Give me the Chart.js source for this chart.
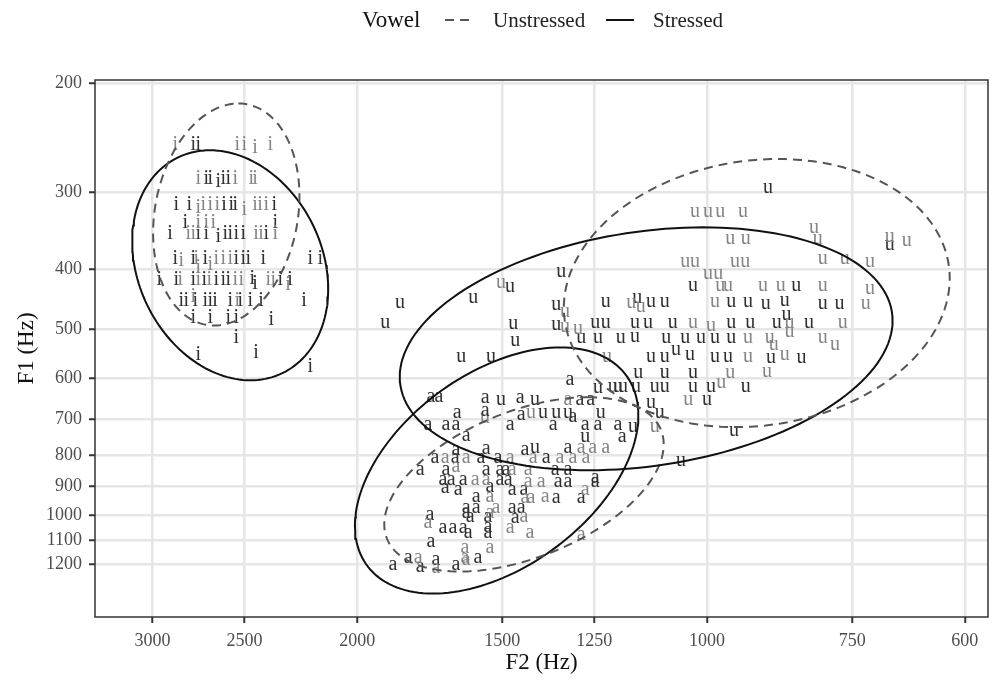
<!DOCTYPE html>
<html>
<head>
<meta charset="utf-8">
<script src="https://cdn.jsdelivr.net/npm/chart.js@4.4.1/dist/chart.umd.min.js"></script>
<style>
  html, body { margin: 0; padding: 0; background: #fff; }
  #wrap { width: 992px; height: 680px; }
</style>
</head>
<body>
<div id="wrap"><canvas id="vowelChart" width="992" height="680"></canvas></div>
<script>
// formant measurements, [F2, F1] in Hz
const iStressed = [
  [2767,252],[2740,252],
  [2697,286],[2676,286],[2634,289],[2608,286],[2582,286],
  [2862,315],[2789,315],[2603,315],[2567,315],[2546,315],[2357,315],
  [2812,337],[2352,337],
  [2897,351],[2740,351],[2697,351],[2634,355],[2597,351],[2572,351],[2541,351],[2506,351],[2395,351],
  [2868,386],[2767,386],[2702,386],[2541,386],[2506,386],[2482,386],[2409,386],[2195,386],[2152,386],
  [2960,417],[2862,417],[2767,417],[2708,417],[2644,417],[2608,417],[2582,417],[2462,415],[2448,423],[2329,417],[2284,417],
  [2834,451],[2806,451],[2756,451],[2702,451],[2676,451],[2650,451],[2572,451],[2521,451],[2472,451],[2419,451],[2222,451],
  [2767,480],[2676,480],[2582,480],[2541,480],[2371,484],
  [2541,518],[2740,551],[2443,547],[2195,576]
];
const iUnstressed = [
  [2868,252],[2536,252],[2501,252],[2448,255],[2376,252],
  [2740,286],[2546,286],[2467,286],[2448,286],
  [2740,319],[2713,315],[2676,315],[2639,315],[2501,321],[2448,315],[2424,315],[2395,315],
  [2740,337],[2697,337],[2660,337],
  [2795,351],[2767,351],[2443,351],[2419,351],[2352,351],
  [2834,389],[2751,386],[2676,394],[2644,386],[2608,386],[2572,386],
  [2840,417],[2740,399],[2740,417],[2681,417],[2546,417],[2516,417],[2385,417],[2361,417],[2293,425],
  [2767,444],[2536,451]
];
const uStressed = [
  [1837,454],[1892,489],[1589,446],[1477,428],[1335,405],[1468,491],[1462,523],[1627,555],[1534,555],[1348,458],[1348,493],
  [1028,427],[1222,453],[1148,446],[1117,453],[1087,453],[953,453],[922,453],
  [1248,489],[1222,489],[1153,489],[1124,489],[1070,489],[953,489],[918,489],
  [1283,517],[1241,517],[1186,517],[1153,515],[1084,517],[1044,517],[1012,517],[984,517],[953,517],
  [1117,555],[1087,555],[1063,541],[1034,551],[984,555],[959,555],
  [1146,590],[1087,590],[1028,590],
  [1241,624],[1205,621],[1193,621],[1181,621],[1151,621],[1109,621],[1087,621],[1028,621],[992,621],[926,621],
  [886,296],[696,366],[838,427],[890,456],[857,451],[795,456],[769,456],[871,489],[854,475],[817,489],[881,558],[829,558],
  [1504,652],[1406,652],[1384,685],[1348,685],[1317,685],[1234,685],[1158,721],[1273,749],[1406,780],
  [1117,659],[1098,685],[1000,652],[948,732],[1053,819]
];
const uUnstressed = [
  [1504,422],[1325,470],[1325,497],
  [1044,390],[1024,390],[946,390],[927,390],[998,408],[978,408],[974,427],[959,427],
  [1162,454],[1140,461],[984,453],[1028,489],[992,495],[922,517],[1219,555],[922,555],[955,590],[972,612],[1291,500],
  [1024,323],[998,323],[974,323],[931,323],[955,358],[926,358],
  [809,344],[803,358],[696,355],[673,361],[795,385],[761,385],[724,390],
  [895,427],[864,427],[795,427],[724,432],[730,456],[849,489],[764,489],[883,517],[876,531],[849,506],[795,517],[776,531],[857,551],[888,587],
  [1552,697],[1417,685],[1109,721],[1038,652]
];
const aStressed = [
  [1728,645],[1701,645],[1552,647],[1448,647],[1640,685],[1552,680],[1738,716],[1677,716],[1644,716],[1477,716],[1445,690],
  [1611,746],[1644,786],[1549,783],[1434,786],[1714,810],[1647,810],[1565,810],[1513,810],
  [1765,847],[1677,847],[1549,847],[1507,847],[1489,847],[1687,879],[1660,879],[1621,879],[1507,879],[1483,879],
  [1312,605],[1286,652],[1259,652],[1304,695],[1356,716],[1273,716],[1241,716],[1193,716],[1183,749],
  [1317,780],[1375,810],[1351,847],[1317,847],[1248,873],[1343,886],[1317,886],[1248,886],
  [1680,905],[1637,912],[1580,936],[1537,902],[1471,912],[1437,912],[1348,940],[1283,940],
  [1611,976],[1580,976],[1611,994],[1471,976],[1445,976],[1462,1013],[1731,1001],[1599,1009],[1543,1009],
  [1687,1051],[1654,1051],[1621,1051],[1605,1071],[1543,1047],[1543,1071],[1728,1107],
  [1574,1176],[1863,1207],[1808,1176],[1765,1216],[1711,1185],[1644,1207]
];
const aUnstressed = [
  [1680,810],[1611,810],[1477,810],[1644,837],[1471,847],[1425,847],[1317,652],
  [1283,780],[1254,780],[1222,780],[1411,810],[1338,810],[1304,810],[1271,810],
  [1583,879],[1549,879],[1425,886],[1389,886],[1537,936],[1434,940],[1417,940],[1378,936],[1273,912],
  [1537,994],[1519,976],[1437,1009],[1738,1031],[1477,1051],[1420,1071],
  [1615,1133],[1537,1133],[1615,1176],[1772,1176],[1711,1220],[1611,1185],[1283,1079]
];

// axis ticks
const f2Ticks = [3000, 2500, 2000, 1500, 1250, 1000, 750, 600];
const f1Ticks = [200, 300, 400, 500, 600, 700, 800, 900, 1000, 1100, 1200];

// 95% ellipses: centre in Hz, semi-diameters as log-ratio offsets
const ellipseVowel  = ['i', 'i', 'u', 'u', 'a', 'a'];
const ellipseStress = ['Unstressed', 'Stressed', 'Unstressed', 'Stressed', 'Unstressed', 'Stressed'];
const ellipseF2 = [2592, 2572, 906, 1128, 1437, 1517];
const ellipseF1 = [326, 394, 437, 538, 892, 847];
const ellipseAxisA = [[-0.024, -0.414], [0.040, -0.429], [-0.042, -0.500], [-0.113, -0.453], [-0.127, -0.325], [-0.126, -0.459]];
const ellipseAxisB = [-0.143, -0.190, -0.380, -0.475, -0.246, -0.251];

const FONT = "'Liberation Serif', 'DejaVu Serif', serif";
const DARK = '#303030';
const GREY = '#858585';

function toPoints(rows) {
  return rows.map(r => ({ x: r[0], y: r[1] }));
}

function ellipsePoints(k) {
  const pts = [];
  const n = 160;
  for (let s = 0; s <= n; s++) {
    const t = s / n * 2 * Math.PI;
    const lx = Math.log(ellipseF2[k]) + ellipseAxisA[k][0] * Math.cos(t) + ellipseAxisB[k] * Math.sin(t);
    const ly = Math.log(ellipseF1[k]) + ellipseAxisA[k][1] * Math.cos(t);
    pts.push({ x: Math.exp(lx), y: Math.exp(ly) });
  }
  return pts;
}

const letterSets = [
  { letter: 'i', stress: 'Stressed', rows: iStressed },
  { letter: 'i', stress: 'Unstressed', rows: iUnstressed },
  { letter: 'u', stress: 'Stressed', rows: uStressed },
  { letter: 'u', stress: 'Unstressed', rows: uUnstressed },
  { letter: 'a', stress: 'Stressed', rows: aStressed },
  { letter: 'a', stress: 'Unstressed', rows: aUnstressed }
];

const datasets = [];
ellipseF2.forEach((_, k) => {
  const unstressed = ellipseStress[k] === 'Unstressed';
  datasets.push({
    label: ellipseVowel[k] + ' ' + ellipseStress[k],
    data: ellipsePoints(k),
    showLine: true,
    pointRadius: 0,
    borderColor: unstressed ? '#555555' : '#111111',
    borderWidth: 2,
    borderDash: unstressed ? [9, 6] : [],
    tension: 0,
    fill: false
  });
});
letterSets.forEach(g => {
  datasets.push({
    label: g.letter + ' ' + g.stress,
    data: toPoints(g.rows),
    pointRadius: 0,
    showLine: false,
    letter: g.letter,
    letterColor: g.stress === 'Stressed' ? DARK : GREY
  });
});

// vowel letters are drawn under the ellipse outlines
const vowelLetters = {
  id: 'vowelLetters',
  beforeDatasetsDraw(chart) {
    const ctx = chart.ctx;
    ctx.save();
    ctx.font = '20px ' + FONT;
    ctx.textAlign = 'center';
    ctx.textBaseline = 'alphabetic';
    chart.data.datasets.forEach((ds, i) => {
      if (!ds.letter) return;
      ctx.fillStyle = ds.letterColor;
      chart.getDatasetMeta(i).data.forEach(pt => {
        ctx.fillText(ds.letter, pt.x, pt.y + 4.5);
      });
    });
    ctx.restore();
  }
};

// panel frame
const panelBorder = {
  id: 'panelBorder',
  afterDraw(chart) {
    const { ctx, chartArea: a } = chart;
    ctx.save();
    ctx.strokeStyle = '#333333';
    ctx.lineWidth = 1.5;
    ctx.strokeRect(a.left, a.top, a.right - a.left, a.bottom - a.top);
    ctx.restore();
  }
};

// legend across the top: title, dashed key, solid key
const stressLegend = {
  id: 'stressLegend',
  afterDraw(chart) {
    const ctx = chart.ctx;
    ctx.save();
    ctx.textBaseline = 'alphabetic';
    ctx.fillStyle = '#111';
    ctx.font = '23px ' + FONT;
    ctx.fillText('Vowel', 362, 27);
    ctx.font = '21px ' + FONT;
    ctx.fillStyle = '#222';
    ctx.fillText('Unstressed', 493, 27);
    ctx.fillText('Stressed', 653, 27);

    ctx.lineWidth = 2;
    ctx.strokeStyle = '#555555';
    ctx.setLineDash([9, 6]);
    ctx.beginPath();
    ctx.moveTo(445, 20);
    ctx.lineTo(470, 20);
    ctx.stroke();
    ctx.setLineDash([]);
    ctx.strokeStyle = '#111111';
    ctx.beginPath();
    ctx.moveTo(606, 20);
    ctx.lineTo(634, 20);
    ctx.stroke();
    ctx.restore();
  }
};

const gridStyle = {
  color: '#e6e6e6',
  lineWidth: 2.5,
  tickColor: '#333333',
  tickWidth: 2,
  tickLength: 6
};

new Chart(document.getElementById('vowelChart'), {
  type: 'scatter',
  data: { datasets },
  options: {
    responsive: false,
    animation: false,
    events: [],
    layout: { padding: { top: 80, right: 4, left: 0, bottom: 0 } },
    plugins: {
      legend: { display: false },
      tooltip: { enabled: false }
    },
    scales: {
      x: {
        type: 'logarithmic',
        reverse: true,
        min: 573,
        max: 3362,
        afterBuildTicks: s => { s.ticks = f2Ticks.map(v => ({ value: v })); },
        afterFit: s => { s.height = 63; },
        grid: gridStyle,
        border: { display: false },
        ticks: {
          autoSkip: false,
          maxRotation: 0,
          padding: 7,
          color: '#4d4d4d',
          font: { family: FONT, size: 18 },
          callback: v => String(v)
        },
        title: {
          display: true,
          text: 'F2 (Hz)',
          color: '#111',
          font: { family: FONT, size: 23 },
          padding: { top: 0, bottom: 3 }
        }
      },
      y: {
        type: 'logarithmic',
        reverse: true,
        min: 197.4,
        max: 1463,
        afterBuildTicks: s => { s.ticks = f1Ticks.map(v => ({ value: v })); },
        afterFit: s => { s.width = 95; },
        grid: gridStyle,
        border: { display: false },
        ticks: {
          autoSkip: false,
          padding: 7,
          color: '#4d4d4d',
          font: { family: FONT, size: 18 },
          callback: v => String(v)
        },
        title: {
          display: true,
          text: 'F1 (Hz)',
          color: '#111',
          font: { family: FONT, size: 23 },
          padding: { top: 13, bottom: 0 }
        }
      }
    }
  },
  plugins: [vowelLetters, panelBorder, stressLegend]
});
</script>
</body>
</html>
